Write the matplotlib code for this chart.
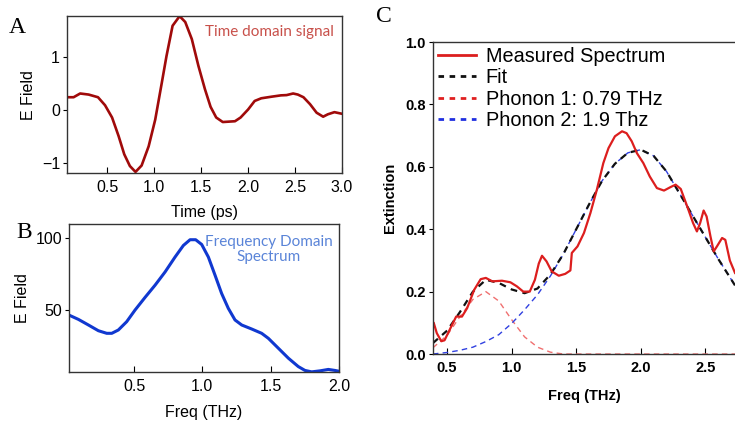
"""Three-panel THz figure: time signal, its spectrum and the phonon fit."""

import matplotlib

matplotlib.use("Agg")
import matplotlib.pyplot as plt
from matplotlib.lines import Line2D

plt.rcParams["font.family"] = ["Liberation Sans", "DejaVu Sans"]

# Panel A: time domain signal
time_ps = [0.07, 0.14, 0.21, 0.30, 0.40, 0.475, 0.55, 0.62, 0.68, 0.74, 0.80,
           0.865, 0.94, 1.01, 1.08, 1.13, 1.195, 1.27, 1.33, 1.40, 1.47, 1.54,
           1.60, 1.66, 1.73, 1.86, 1.92, 2.00, 2.07, 2.14, 2.25, 2.35, 2.41,
           2.48, 2.53, 2.59, 2.66, 2.73, 2.80, 2.85, 2.92, 3.00]
e_time = [0.24, 0.24, 0.31, 0.29, 0.24, 0.09, -0.14, -0.49, -0.83, -1.05,
          -1.16, -1.04, -0.68, -0.18, 0.51, 1.01, 1.58, 1.76, 1.65, 1.33, 0.83,
          0.39, 0.06, -0.14, -0.225, -0.21, -0.14, 0.01, 0.17, 0.22, 0.25,
          0.275, 0.28, 0.31, 0.29, 0.24, 0.11, -0.05, -0.125, -0.08, -0.04,
          -0.07]

# Panel B: frequency domain spectrum
freq_b = [0.024, 0.093, 0.166, 0.239, 0.30, 0.337, 0.385, 0.446, 0.507, 0.58,
          0.654, 0.727, 0.80, 0.861, 0.91, 0.951, 0.995, 1.044, 1.093, 1.141,
          1.19, 1.239, 1.288, 1.361, 1.434, 1.483, 1.556, 1.63, 1.702, 1.751,
          1.80, 1.861, 1.922, 1.97, 2.007]
e_freq = [46.5, 43.5, 39.6, 35.6, 33.8, 33.8, 36.1, 41.9, 50.0, 58.8, 67.4,
          76.6, 87.0, 95.1, 99.1, 99.1, 95.8, 87.0, 74.3, 61.6, 51.2, 43.1,
          39.6, 36.8, 33.8, 30.3, 23.4, 16.4, 10.6, 7.9, 6.9, 7.6, 8.6, 7.9,
          7.2]

# Panel C: measured extinction spectrum
freq_meas = [0.397, 0.42, 0.455, 0.48, 0.526, 0.57, 0.615, 0.655, 0.71, 0.76,
             0.80, 0.85, 0.925, 0.99, 1.04, 1.09, 1.14, 1.18, 1.21, 1.235,
             1.27, 1.31, 1.365, 1.415, 1.455, 1.466, 1.51, 1.56, 1.61, 1.66,
             1.71, 1.75, 1.80, 1.855, 1.89, 1.93, 1.97, 2.02, 2.07, 2.125,
             2.18, 2.23, 2.27, 2.31, 2.36, 2.405, 2.435, 2.46, 2.487, 2.51,
             2.54, 2.565, 2.59, 2.63, 2.655, 2.69, 2.73]
ext_meas = [0.099, 0.067, 0.041, 0.044, 0.083, 0.12, 0.12, 0.147, 0.206, 0.24,
            0.244, 0.233, 0.235, 0.23, 0.217, 0.20, 0.20, 0.238, 0.29, 0.315,
            0.297, 0.265, 0.251, 0.257, 0.268, 0.324, 0.345, 0.388, 0.452,
            0.527, 0.612, 0.66, 0.698, 0.714, 0.708, 0.682, 0.644, 0.612,
            0.569, 0.532, 0.524, 0.535, 0.543, 0.529, 0.473, 0.42, 0.393,
            0.42, 0.46, 0.441, 0.377, 0.329, 0.345, 0.372, 0.366, 0.30, 0.26]

# Panel C: fit and its two phonon components
freq_fit = [0.39, 0.5, 0.6, 0.7, 0.8, 0.9, 1.0, 1.1, 1.2, 1.3, 1.4, 1.5, 1.6,
            1.7, 1.8, 1.9, 2.0, 2.1, 2.2, 2.3, 2.4, 2.5, 2.6, 2.73]
ext_fit = [0.035, 0.075, 0.135, 0.2, 0.238, 0.228, 0.207, 0.195, 0.21, 0.255,
           0.32, 0.40, 0.48, 0.555, 0.61, 0.645, 0.655, 0.635, 0.585, 0.515,
           0.445, 0.375, 0.305, 0.22]
ext_phonon1 = [0.02, 0.06, 0.12, 0.175, 0.2, 0.17, 0.11, 0.055, 0.022, 0.006,
               0.0, 0.0, 0.0, 0.0, 0.0, 0.0, 0.0, 0.0, 0.0, 0.0, 0.0, 0.0,
               0.0, 0.0]
ext_phonon2 = [0.0, 0.005, 0.012, 0.022, 0.04, 0.062, 0.098, 0.142, 0.19,
               0.25, 0.32, 0.40, 0.48, 0.555, 0.61, 0.645, 0.655, 0.635,
               0.585, 0.515, 0.445, 0.375, 0.305, 0.22]

legend_labels = ["Measured Spectrum", "Fit", "Phonon 1: 0.79 THz",
                 "Phonon 2: 1.9 Thz"]

SERIF = ["Liberation Serif", "DejaVu Serif"]
NOTE_FONT = ["Lato", "DejaVu Sans"]


def style_axes(ax, size, weight="normal"):
    # x ticks point into the box, y ticks point out of it
    ax.tick_params(axis="x", direction="in", length=4, width=0.8, pad=5)
    ax.tick_params(axis="y", direction="out", length=3, width=0.8, pad=2)
    ax.tick_params(labelsize=size, top=False, right=False)
    for lab in ax.get_xticklabels() + ax.get_yticklabels():
        lab.set_fontweight(weight)
    for sp in ax.spines.values():
        sp.set_linewidth(1.0)
        sp.set_color("#333333")


fig = plt.figure(figsize=(7.35, 4.25), dpi=100)

# --- A ---
ax_a = fig.add_axes([0.0912, 0.593, 0.374, 0.369])
ax_a.plot(time_ps, e_time, color="#a00a0a", lw=1.9)
ax_a.set_xlim(0.07, 3.0)
ax_a.set_ylim(-1.18, 1.76)
ax_a.set_xticks([0.5, 1.0, 1.5, 2.0, 2.5, 3.0])
ax_a.set_xticklabels(["0.5", "1.0", "1.5", "2.0", "2.5", "3.0"])
ax_a.set_yticks([-1, 0, 1])
ax_a.set_xlabel("Time (ps)", fontsize=11.5, labelpad=7)
ax_a.set_ylabel("E Field", fontsize=11.5, labelpad=4)
style_axes(ax_a, 11.5)
ax_a.text(0.97, 0.90, "Time domain signal", transform=ax_a.transAxes,
          ha="right", va="center", color="#c8504a", fontsize=11,
          family=NOTE_FONT)

# --- B ---
ax_b = fig.add_axes([0.0939, 0.1247, 0.3673, 0.348])
ax_b.plot(freq_b, e_freq, color="#1038d0", lw=2.2)
ax_b.set_xlim(0.024, 2.0)
ax_b.set_ylim(6.8, 110)
ax_b.set_xticks([0.5, 1.0, 1.5, 2.0])
ax_b.set_xticklabels(["0.5", "1.0", "1.5", "2.0"])
ax_b.set_yticks([50, 100])
ax_b.set_xlabel("Freq (THz)", fontsize=11.5, labelpad=8)
ax_b.set_ylabel("E Field", fontsize=11.5, labelpad=4)
style_axes(ax_b, 11.5)
ax_b.text(0.74, 0.83, "Frequency Domain\nSpectrum", transform=ax_b.transAxes,
          ha="center", va="center", color="#5a84d8", fontsize=11,
          family=NOTE_FONT, linespacing=1.1)

# --- C ---
ax_c = fig.add_axes([0.589, 0.167, 0.411, 0.734])
ax_c.plot(freq_fit, ext_phonon1, color="#f07070", lw=1.0, ls=(0, (4, 3)))
ax_c.plot(freq_fit, ext_phonon2, color="#3040e0", lw=1.0, ls=(0, (4, 3)))
ax_c.plot(freq_fit, ext_fit, color="#111111", lw=1.6, ls=(0, (3, 2.5)))
ax_c.plot(freq_meas, ext_meas, color="#dc1e1e", lw=1.6)
ax_c.set_xlim(0.39, 2.73)
ax_c.set_ylim(0.0, 1.0)
ax_c.set_xticks([0.5, 1.0, 1.5, 2.0, 2.5])
ax_c.set_xticklabels(["0.5", "1.0", "1.5", "2.0", "2.5"])
ax_c.set_yticks([0.0, 0.2, 0.4, 0.6, 0.8, 1.0])
ax_c.set_yticklabels(["0.0", "0.2", "0.4", "0.6", "0.8", "1.0"])
ax_c.set_xlabel("Freq (THz)", fontsize=10.5, fontweight="bold", labelpad=10)
ax_c.set_ylabel("Extinction", fontsize=10.5, fontweight="bold", labelpad=6)
style_axes(ax_c, 10.5, weight="bold")
ax_c.spines["right"].set_visible(False)

handles = [
    Line2D([], [], color="#dc1e1e", lw=2.0),
    Line2D([], [], color="#111111", lw=2.0, ls=(0, (2, 2))),
    Line2D([], [], color="#e02020", lw=2.0, ls=(0, (2, 2))),
    Line2D([], [], color="#2030e0", lw=2.0, ls=(0, (2, 2))),
]
ax_c.legend(handles, legend_labels, loc="upper left", frameon=False,
            fontsize=14.3, handlelength=1.9, handletextpad=0.5,
            labelspacing=0.12, borderaxespad=0.15, borderpad=0.1)

# panel letters
fig.text(0.012, 0.935, "A", family=SERIF, fontsize=17, va="center")
fig.text(0.022, 0.453, "B", family=SERIF, fontsize=17, va="center")
fig.text(0.512, 0.962, "C", family=SERIF, fontsize=17, va="center")

fig.savefig("out.png", dpi=100)
